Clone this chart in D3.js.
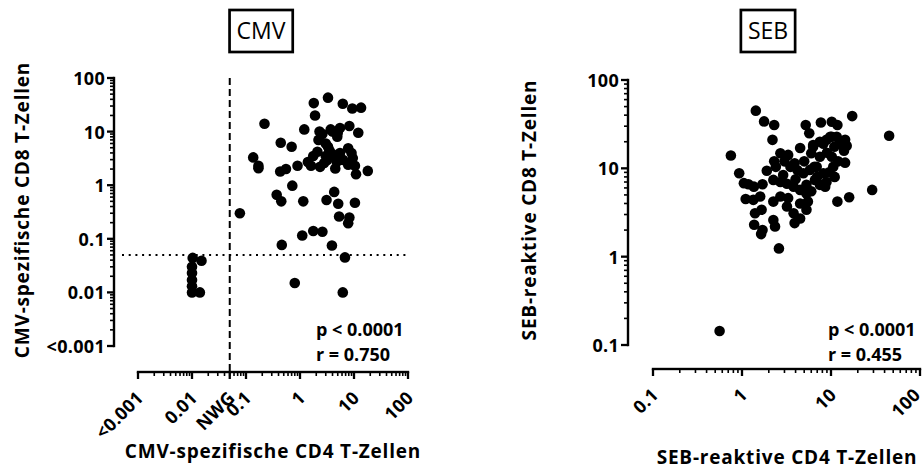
<!DOCTYPE html>
<html>
<head>
<meta charset="utf-8">
<script src="https://cdn.jsdelivr.net/npm/d3@7"></script>
<style>
  html, body { margin: 0; padding: 0; background: #fff; }
  svg { display: block; }
  text { font-family: "Open Sans", "DejaVu Sans", sans-serif; }
</style>
</head>
<body>
<svg id="chart" width="924" height="470"></svg>
<script>
// ---------------- DATA ----------------
// CMV panel: CMV-spezifische CD4 (x) vs CD8 (y) T-Zellen
const cmvCD4 = [3.3, 1.8, 6.2, 9.3, 13.5, 1.9, 0.22, 1.2, 2.3, 3.7, 5.5, 8.2, 12, 4.9, 2.2, 0.44, 0.7, 3.3, 2.1, 7.8,
  1.76, 0.136, 0.17, 0.17, 0.43, 0.55, 0.9, 1.4, 2.35, 4.5, 7.8, 10.4, 10.9, 18, 0.72, 0.37, 0.45, 1.15, 3.1, 4.3,
  5.1, 10.4, 0.077, 5.3, 8.2, 7.8, 1.76, 2.6, 1.1, 0.46, 3.9, 6.8, 0.8, 6.2,
  0.0103, 0.015, 0.01, 0.01, 0.01, 0.01, 0.01, 0.014,
  3.0, 3.5, 4.0, 4.5, 5.5, 6.0, 3.0, 2.8, 9.0, 9.5, 2.6, 4.0, 5.0, 1.6, 3.7, 4.8, 6.3, 3.2];
const cmvCD8 = [43, 34, 33, 27, 28, 20, 14, 11, 10, 11, 11.7, 12.7, 9.5, 8, 7, 6.2, 5.2, 5.2, 4.2, 4.9,
  3.5, 3.3, 2.07, 2.3, 1.8, 2.0, 2.3, 2.7, 2.2, 2.05, 2.4, 2.3, 1.6, 1.85, 0.98, 0.66, 0.5, 0.5, 0.53, 0.75,
  0.45, 0.47, 0.3, 0.26, 0.25, 0.195, 0.14, 0.135, 0.115, 0.077, 0.075, 0.045, 0.015, 0.01,
  0.044, 0.039, 0.03, 0.023, 0.017, 0.013, 0.01, 0.01,
  6.0, 4.5, 3.8, 3.3, 4.0, 3.0, 3.5, 2.6, 4.0, 3.2, 9.0, 10, 9.5, 2.3, 3.4, 2.75, 2.95, 2.95];

// SEB panel: SEB-reaktive CD4 (x) vs CD8 (y) T-Zellen
const sebCD4 = [1.43, 1.77, 2.3, 2.2, 0.75, 17.3, 45, 5.2, 5.7, 7.7, 10.2, 11.8, 4.5, 11.6, 14.4, 15, 14, 14.4, 29, 16,
  11.8, 0.93, 1.05, 1.18, 1.36, 1.7, 1.1, 1.34, 1.6, 2.25, 1.4, 1.66, 1.37, 1.7, 1.64, 2.25, 2.35, 2.6, 0.56,
  1.9, 2.3, 2.7, 3.3, 3.9, 4.9, 5.8, 6.9, 7.5, 8.2, 8.9, 6.6, 5.3, 4.5, 3.8, 3.2, 2.7, 2.7, 3.3, 3.8,
  4.5, 3.9, 5.3, 5.5, 5.3, 2.9, 3.5, 10.2, 10.6, 8.9, 6.3, 10.2, 6.0, 6.5, 8.2, 8.6, 10.9, 2.4, 2.25, 3.2,
  4.5, 7, 9.5, 7.5, 12, 4.2, 5, 9, 11, 6, 12.5, 3, 4, 14.3, 9.8, 7.5, 6.3];
const sebCD8 = [45, 34, 31, 21, 14, 39, 23.4, 31, 25, 33, 33.7, 31, 17, 22.8, 21, 18, 15.8, 11.6, 5.7, 4.7,
  4.2, 8.8, 6.8, 6.6, 6.2, 6.6, 4.5, 4.4, 4.8, 4.2, 3.1, 3.4, 2.3, 2.0, 1.8, 2.6, 2.2, 1.24, 0.144,
  9.4, 12, 14.8, 14.2, 11.4, 8.8, 9.6, 10.4, 13.5, 19, 7, 7.4, 6.5, 5.7, 6.2, 6.7, 7, 4.8, 4.6, 3.1,
  2.7, 2.4, 3.4, 4.2, 5.2, 8.4, 10.4, 13.5, 10.4, 21, 17.6, 22.8, 14.8, 10.4, 8.8, 6.2, 17.6, 10.4, 7.4, 3.7,
  4.0, 8, 9, 6.5, 12, 9.5, 12, 15, 8, 5.5, 19, 12, 7.5, 19.2, 22.8, 20, 18.4];

// Tick values and labels
const cmvXTicks = [0.001, 0.01, 0.05, 0.1, 1, 10, 100];
const cmvXLabels = ["<0.001", "0.01", "NWG", "0.1", "1", "10", "100"];
const cmvYTicks = [0.001, 0.01, 0.1, 1, 10, 100];
const cmvYLabels = ["<0.001", "0.01", "0.1", "1", "10", "100"];
const sebTicks = [0.1, 1, 10, 100];
const sebLabels = ["0.1", "1", "10", "100"];
const cmvCutoff = 0.05;   // NWG (Nachweisgrenze)

const panelTitles = ["CMV", "SEB"];
const cmvStats = ["p < 0.0001", "r = 0.750"];
const sebStats = ["p < 0.0001", "r = 0.455"];
const cmvXTitle = "CMV-spezifische CD4 T-Zellen";
const cmvYTitle = "CMV-spezifische CD8 T-Zellen";
const sebXTitle = "SEB-reaktive CD4 T-Zellen";
const sebYTitle = "SEB-reaktive CD8 T-Zellen";

// ---------------- DRAW ----------------
const svg = d3.select("#chart");
const INK = "#000";

function minorTicks(lo, hi) {
  const out = [];
  for (let e = Math.round(Math.log10(lo)); e < Math.round(Math.log10(hi)); e++) {
    for (let m = 2; m <= 9; m++) out.push(m * Math.pow(10, e));
  }
  return out;
}

// axis line and ticks drawn as filled rectangles placed by the scale
function axisRects(g, scale, vertical, pos, majors, minors) {
  const lg = g.append("g");
  const r = scale.range();
  const lo = Math.min(r[0], r[1]), hi = Math.max(r[0], r[1]);
  const W = 2.4;
  // axis line
  if (vertical) {
    lg.append("rect").attr("x", pos - W / 2).attr("y", lo - W / 2).attr("width", W).attr("height", hi - lo + W).attr("fill", INK);
  } else {
    lg.append("rect").attr("x", lo - W / 2).attr("y", pos - W / 2).attr("width", hi - lo + W).attr("height", W).attr("fill", INK);
  }
  const tick = (t, len, w) => {
    const c = scale(t);
    if (vertical) {
      lg.append("rect").attr("x", pos - len).attr("y", c - w / 2).attr("width", len).attr("height", w).attr("fill", INK);
    } else {
      lg.append("rect").attr("x", c - w / 2).attr("y", pos).attr("width", w).attr("height", len).attr("fill", INK);
    }
  };
  minors.forEach(t => tick(t, 4, 1.6));
  majors.forEach(t => tick(t, 7, 2.3));
}

function drawPanel(cfg) {
  const g = svg.append("g");
  const x = d3.scaleLog().domain(cfg.xDomain).range(cfg.xRange);
  const y = d3.scaleLog().domain(cfg.yDomain).range(cfg.yRange);

  // Y axis labels (d3 axis)
  const ya = g.append("g").attr("transform", `translate(${cfg.yAxisX},0)`)
    .call(d3.axisLeft(y).tickValues(cfg.yTicks).tickSize(6.5).tickSizeOuter(0)
      .tickFormat((d, i) => cfg.yLabels[i]));
  ya.attr("fill", null);
  ya.select(".domain").remove();
  ya.selectAll(".tick line").remove();
  ya.selectAll("text").attr("x", -9).attr("dy", "0.36em")
    .style("font-size", "18px").style("font-weight", "700").style("letter-spacing", "0.3px").attr("fill", INK);

  // X axis labels (d3 axis)
  const xa = g.append("g").attr("transform", `translate(0,${cfg.xAxisY})`)
    .call(d3.axisBottom(x).tickValues(cfg.xTicks).tickSize(6.5).tickSizeOuter(0)
      .tickFormat((d, i) => cfg.xLabels[i]));
  xa.attr("fill", null);
  xa.select(".domain").remove();
  xa.selectAll(".tick line").remove();
  xa.selectAll("text").attr("x", 0).attr("y", 0).attr("dy", 0)
    .attr("transform", (d, i) => (cfg.xTicks[i] === cfg.xDomain[1] && cfg.clampLast)
      ? "translate(1,27) rotate(-45)" : "translate(6,27) rotate(-45)")
    .style("text-anchor", "end")
    .style("font-size", "18px").style("font-weight", "700").style("letter-spacing", "0.3px").attr("fill", INK);

  // axis lines and ticks
  axisRects(g, y, true, cfg.yAxisX, cfg.yTicks, minorTicks(cfg.yDomain[0], cfg.yDomain[1]));
  axisRects(g, x, false, cfg.xAxisY, cfg.xTicks, minorTicks(cfg.xDomain[0], cfg.xDomain[1]));

  if (cfg.extra) cfg.extra(g, x, y);

  // points
  g.append("g").selectAll("circle")
    .data(cfg.xs.map((v, i) => [v, cfg.ys[i]]))
    .join("circle")
    .attr("cx", d => x(d[0]))
    .attr("cy", d => y(d[1]))
    .attr("r", 5.3)
    .attr("fill", INK);

  // stats text
  g.append("g").selectAll("text").data(cfg.stats).join("text")
    .attr("x", cfg.statsX)
    .attr("y", (d, i) => cfg.statsY + i * 25)
    .style("font-size", "18px").style("font-weight", "700")
    .attr("fill", INK)
    .text(d => d);

  // axis titles
  g.append("text")
    .attr("x", cfg.xTitlePos[0]).attr("y", cfg.xTitlePos[1])
    .attr("text-anchor", "middle")
    .style("font-size", "19px").style("font-weight", "700").style("letter-spacing", "0.8px")
    .attr("fill", INK)
    .text(cfg.xTitle);
  g.append("text")
    .attr("transform", `translate(${cfg.yTitlePos[0]},${cfg.yTitlePos[1]}) rotate(-90)`)
    .attr("text-anchor", "middle")
    .style("font-size", "19px").style("font-weight", "700").style("letter-spacing", "0.8px")
    .attr("fill", INK)
    .text(cfg.yTitle);

  // title box
  const tb = g.append("g").attr("transform", `translate(${cfg.titleCenter[0]},${cfg.titleCenter[1]})`);
  const tt = tb.append("text").attr("text-anchor", "middle").attr("dy", "0.36em")
    .style("font-size", "23px").style("font-weight", "400").attr("fill", INK).text(cfg.title);
  const bb = tt.node().getBBox();
  tb.insert("rect", "text")
    .attr("x", bb.x - 7).attr("y", -21)
    .attr("width", bb.width + 14).attr("height", 42)
    .attr("fill", "none").attr("stroke", INK).attr("stroke-width", 2.7);
}

drawPanel({
  xDomain: [0.001, 100], xRange: [138, 408],
  yDomain: [0.001, 100], yRange: [346, 78],
  yAxisX: 114, xAxisY: 372,
  xTicks: cmvXTicks, xLabels: cmvXLabels,
  yTicks: cmvYTicks, yLabels: cmvYLabels,
  xs: cmvCD4, ys: cmvCD8,
  stats: cmvStats, statsX: 316, statsY: 336,
  xTitle: cmvXTitle, xTitlePos: [273, 458],
  yTitle: cmvYTitle, yTitlePos: [29, 210],
  title: panelTitles[0], titleCenter: [261, 31],
  extra: (g, x, y) => {
    g.append("line")
      .attr("x1", x(cmvCutoff)).attr("x2", x(cmvCutoff))
      .attr("y1", y(100)).attr("y2", 375)
      .attr("stroke", INK).attr("stroke-width", 2).attr("stroke-dasharray", "7,4");
    g.append("line")
      .attr("x1", 122).attr("x2", x(100))
      .attr("y1", y(cmvCutoff)).attr("y2", y(cmvCutoff))
      .attr("stroke", INK).attr("stroke-width", 2).attr("stroke-dasharray", "2,4.7");
  }
});

drawPanel({
  xDomain: [0.1, 100], xRange: [653, 920],
  yDomain: [0.1, 100], yRange: [345, 80],
  yAxisX: 628, xAxisY: 369,
  xTicks: sebTicks, xLabels: sebLabels, clampLast: true,
  yTicks: sebTicks, yLabels: sebLabels,
  xs: sebCD4, ys: sebCD8,
  stats: sebStats, statsX: 828, statsY: 336,
  xTitle: sebXTitle, xTitlePos: [787, 464],
  yTitle: sebYTitle, yTitlePos: [536, 210],
  title: panelTitles[1], titleCenter: [768, 31]
});
</script>
</body>
</html>
